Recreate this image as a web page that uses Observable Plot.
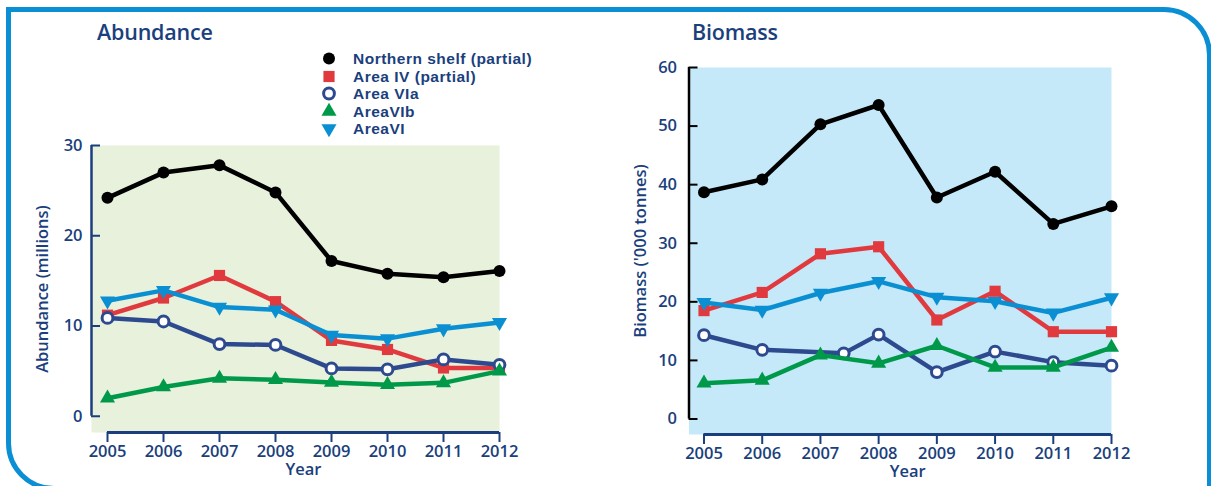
<!DOCTYPE html>
<html>
<head>
<meta charset="utf-8">
<script src="https://cdn.jsdelivr.net/npm/d3@7"></script>
<script src="https://cdn.jsdelivr.net/npm/@observablehq/plot@0.6"></script>
<style>
  html, body { margin: 0; padding: 0; background: #fff; }
  #root { position: relative; width: 1211px; height: 486px; overflow: hidden; font-family: "Open Sans", sans-serif; color: #1b3f7d; }
  #border { position: absolute; left: 6px; top: 7px; width: 1206px; height: 484px; box-sizing: border-box;
            border: 5px solid #0a8fd4; border-radius: 0 48px 0 48px; }
  .panel { position: absolute; top: 0; }
  .title { position: absolute; font-size: 21.5px; font-weight: 600; top: 17px; letter-spacing: -0.2px; line-height: 30px; }
  #legend { position: absolute; left: 318px; top: 50px; font-family: "Liberation Sans", Arial, sans-serif; font-size: 15.5px; font-weight: 700; letter-spacing: 0.5px; }
  #legend .row { height: 17.5px; display: flex; align-items: center; white-space: nowrap; }
  #legend .row span { line-height: 17px; }
  #legend svg { width: 22px; height: 17px; margin-right: 13px; overflow: visible; }
</style>
</head>
<body>
<div id="root">
  <div id="border"></div>
  <div class="panel" id="abund" style="left:0px"></div>
  <div class="panel" id="biom" style="left:600px"></div>
  <div class="title" style="left:97px">Abundance</div>
  <div class="title" style="left:692px">Biomass</div>
  <div id="legend"></div>
</div>
<script>
// ---------- data ----------
const years = [2005, 2006, 2007, 2008, 2009, 2010, 2011, 2012];
const seriesNames = ["Northern shelf (partial)", "Area IV (partial)", "Area VIa", "AreaVIb", "AreaVI"];

// Abundance (millions)
const abundNorthern = [24.2, 27.0, 27.8, 24.8, 17.2, 15.8, 15.4, 16.1];
const abundIV       = [11.2, 13.1, 15.6, 12.7, 8.4, 7.4, 5.35, 5.35];
const abundVIa      = [10.9, 10.5, 8.0, 7.9, 5.3, 5.2, 6.3, 5.7];
const abundVIb      = [2.0, 3.25, 4.2, 4.05, 3.75, 3.5, 3.7, 5.0];
const abundVI       = [12.8, 13.95, 12.1, 11.8, 9.0, 8.6, 9.7, 10.4];

// Biomass ('000 tonnes)
const biomNorthern = [38.7, 40.9, 50.3, 53.6, 37.8, 42.2, 33.3, 36.3];
const biomIV       = [18.5, 21.6, 28.2, 29.4, 16.9, 21.8, 14.9, 14.9];
const biomVIaYears = [2005, 2006, 2007.4, 2008, 2009, 2010, 2011, 2012];
const biomVIa      = [14.3, 11.8, 11.2, 14.4, 8.0, 11.5, 9.7, 9.1];
const biomVIb      = [6.1, 6.6, 10.9, 9.5, 12.5, 8.8, 8.8, 12.2];
const biomVI       = [19.9, 18.6, 21.5, 23.5, 20.8, 20.1, 18.1, 20.7];

const abundTicks = [0, 10, 20, 30];
const biomTicks = [0, 10, 20, 30, 40, 50, 60];

// ---------- styles ----------
const navy = "#1b3f7d";
const styles = {
  "Northern shelf (partial)": {color: "#000000", symbol: "circle", fill: "#000000", r: 6, rotate: 0, sw: 0},
  "Area IV (partial)":        {color: "#e03a3f", symbol: "square", fill: "#e03a3f", r: 6.3, rotate: 0, sw: 0},
  "Area VIa":                 {color: "#2e4a8f", symbol: "circle", fill: "#ffffff", r: 5.4, rotate: 0, sw: 3},
  "AreaVIb":                  {color: "#00994a", symbol: "triangle", fill: "#00994a", r: 5.6, rotate: 0, sw: 0},
  "AreaVI":                   {color: "#0b8fd3", symbol: "triangle", fill: "#0b8fd3", r: 5.6, rotate: 180, sw: 0}
};
const drawOrder = ["Northern shelf (partial)", "Area IV (partial)", "AreaVI", "Area VIa", "AreaVIb"];

function toRows(xs, vs) { return xs.map((x, i) => ({x, v: vs[i]})); }

function seriesMarks(dataByName) {
  const marks = [];
  for (const name of drawOrder) {
    const s = styles[name];
    const data = dataByName[name];
    marks.push(Plot.line(data, {x: "x", y: "v", stroke: s.color, strokeWidth: 4.5, strokeLinejoin: "round", strokeLinecap: "round"}));
    marks.push(Plot.dot(data, {x: "x", y: "v", symbol: s.symbol, r: s.r, fill: s.fill,
      stroke: s.sw ? s.color : "none", strokeWidth: s.sw, rotate: s.rotate}));
  }
  return marks;
}

function panel({data, yDomain, ticks, yLabel, bg, yAxisColor, width, marginLeft, marginRight, marginTop, marginBottom, inset, tickPad, labelDx}) {
  return Plot.plot({
    width, height: 486, marginLeft, marginRight, marginTop, marginBottom,
    x: {domain: [years[0], years[years.length - 1]]},
    y: {domain: yDomain},
    style: {fontFamily: "Open Sans, sans-serif", fontWeight: 600, fontSize: "16.5px", color: navy, background: "transparent", overflow: "visible"},
    marks: [
      Plot.frame({fill: bg, stroke: "none", insetLeft: -inset}),
      Plot.ruleX([years[0]], {y1: ticks[0], y2: ticks[ticks.length - 1], dx: -inset, stroke: yAxisColor, strokeWidth: 2.5}),
      Plot.axisY({ticks, tickSize: -9, tickPadding: tickPad, dx: -inset, stroke: yAxisColor, strokeWidth: 2, label: null, fill: navy}),
      Plot.ruleY([yDomain[0]], {stroke: navy, strokeWidth: 3}),
      Plot.axisX({ticks: years, tickFormat: d => String(d), tickSize: 10, tickPadding: 3, stroke: navy, strokeWidth: 2, label: null, fill: navy}),
      Plot.text([yLabel], {frameAnchor: "left", textAnchor: "middle", dx: labelDx, rotate: -90, fill: navy, fontSize: 16.5, fontWeight: 600}),
      Plot.text(["Year"], {frameAnchor: "bottom", dy: 42, fill: navy, fontSize: 16.5, fontWeight: 600}),
      ...seriesMarks(data)
    ]
  });
}

const abundData = {
  "Northern shelf (partial)": toRows(years, abundNorthern),
  "Area IV (partial)": toRows(years, abundIV),
  "Area VIa": toRows(years, abundVIa),
  "AreaVIb": toRows(years, abundVIb),
  "AreaVI": toRows(years, abundVI)
};
const biomData = {
  "Northern shelf (partial)": toRows(years, biomNorthern),
  "Area IV (partial)": toRows(years, biomIV),
  "Area VIa": toRows(biomVIaYears, biomVIa),
  "AreaVIb": toRows(years, biomVIb),
  "AreaVI": toRows(years, biomVI)
};

document.getElementById("abund").appendChild(panel({
  data: abundData, yDomain: [-1.8, 30], ticks: abundTicks, yLabel: "Abundance (millions)",
  bg: "#e7f1db", yAxisColor: navy, width: 600, marginLeft: 107, marginRight: 101, marginTop: 145, marginBottom: 54,
  inset: 16, tickPad: 18, labelDx: -65
}));
document.getElementById("biom").appendChild(panel({
  data: biomData, yDomain: [-2.65, 60], ticks: biomTicks, yLabel: "Biomass ('000 tonnes)",
  bg: "#c5e9f9", yAxisColor: "#000000", width: 611, marginLeft: 103.5, marginRight: 100, marginTop: 67, marginBottom: 52,
  inset: 15, tickPad: 21, labelDx: -63.5
}));

// ---------- legend ----------
const legend = d3.select("#legend");
for (const name of seriesNames) {
  const s = styles[name];
  const row = legend.append("div").attr("class", "row");
  const svg = row.append("svg").attr("viewBox", "-11 -8.5 22 17");
  const sym = {circle: d3.symbolCircle, square: d3.symbolSquare, triangle: d3.symbolTriangle}[s.symbol];
  svg.append("path")
    .attr("d", d3.symbol(sym, Math.PI * s.r * s.r)())
    .attr("transform", s.rotate ? `rotate(${s.rotate})` : null)
    .attr("fill", s.fill)
    .attr("stroke", s.sw ? s.color : "none")
    .attr("stroke-width", s.sw);
  row.append("span").text(name);
}
</script>
</body>
</html>
